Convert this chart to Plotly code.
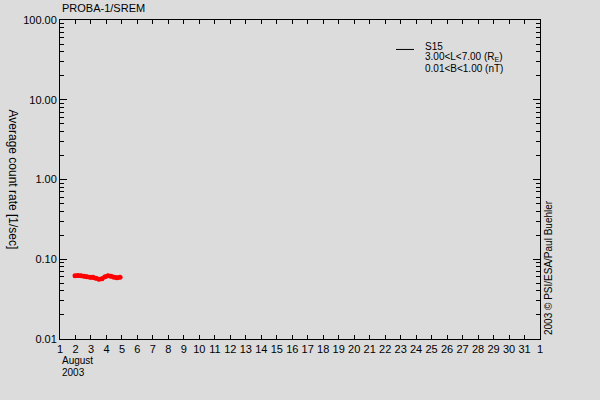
import plotly.graph_objects as go

# Data (day of August 2003, average count rate [1/sec])
days = [1.97, 2.16, 2.36, 2.55, 2.74, 2.94, 3.13, 3.32, 3.52, 3.71, 3.91, 4.10, 4.29, 4.49, 4.68, 4.88]
rates = [0.0620, 0.0625, 0.0620, 0.0612, 0.0604, 0.0596, 0.0596, 0.0579, 0.0562, 0.0570,
         0.0604, 0.0620, 0.0612, 0.0596, 0.0587, 0.0596]

x_tickvals = list(range(1, 33))
x_ticktext = [str(d) for d in range(1, 32)] + ["1"]
y_tickvals = [0.01, 0.1, 1, 10, 100]
y_ticktext = ["0.01", "0.10", "1.00", "10.00", "100.00"]
y_minor = [m * 10 ** e for e in range(-2, 2) for m in range(2, 10)]
legend_lines = ["S15", "3.00<L<7.00 (R<sub>E</sub>)", "0.01<B<1.00 (nT)"]

BG = "#dcdcdc"
FONT = dict(family="Liberation Sans", size=11, color="black")
SMALL = dict(family="Liberation Sans", size=10, color="black")
PH = 319.5  # plot height in px
PW = 480

fig = go.Figure()
fig.add_trace(go.Scatter(
    x=days, y=rates, mode="lines+markers",
    line=dict(color="red", width=4),
    marker=dict(color="red", size=5),
    showlegend=False, hoverinfo="skip",
))

fig.update_layout(
    width=600, height=400,
    margin=dict(l=60, r=60, t=20, b=61, autoexpand=False),
    paper_bgcolor=BG, plot_bgcolor=BG,
    font=FONT,
    showlegend=False,
)
fig.update_xaxes(
    range=[1, 32], tickmode="array", tickvals=x_tickvals, ticktext=x_ticktext,
    ticks="inside", ticklen=4, tickwidth=1, tickcolor="black",
    showline=True, linecolor="black", linewidth=1, mirror="ticks",
    showgrid=False, zeroline=False, tickfont=FONT,
)
fig.update_yaxes(
    type="log", range=[-2, 2], tickmode="array", tickvals=y_tickvals, ticktext=y_ticktext,
    ticks="inside", ticklen=7, tickwidth=1, tickcolor="black",
    minor=dict(tickmode="array", tickvals=y_minor, ticks="inside", ticklen=4, tickcolor="black", showgrid=False),
    showline=True, linecolor="black", linewidth=1, mirror="ticks",
    showgrid=False, zeroline=False, tickfont=FONT,
)

# Title
fig.add_annotation(text="PROBA-1/SREM", xref="paper", yref="paper", x=0, y=1,
                   xanchor="left", yanchor="bottom", yshift=4, showarrow=False, font=FONT)
# Y axis title (reads top to bottom)
fig.add_annotation(text="Average count rate [1/sec]", xref="paper", yref="paper",
                   x=0, y=0.5, xanchor="center", yanchor="middle", xshift=-47, textangle=90,
                   showarrow=False, font=dict(family="Liberation Sans", size=12, color="black"))
# Copyright on right
fig.add_annotation(text="2003 © PSI/ESA/Paul Buehler", xref="paper", yref="paper",
                   x=1, y=0, xanchor="left", yanchor="bottom", xshift=1, yshift=2,
                   textangle=-90, showarrow=False, font=SMALL)
# Month / year under axis
fig.add_annotation(text="August", xref="paper", yref="paper", x=0, y=0,
                   xanchor="left", yanchor="middle", yshift=-21, showarrow=False, font=SMALL)
fig.add_annotation(text="2003", xref="paper", yref="paper", x=0, y=0,
                   xanchor="left", yanchor="middle", yshift=-33, showarrow=False, font=SMALL)
# Legend
fig.add_shape(type="line", xref="paper", yref="paper",
              x0=(396 - 60) / PW, x1=(414 - 60) / PW,
              y0=(339 - 49) / PH, y1=(339 - 49) / PH,
              line=dict(color="black", width=1))
for i, txt in enumerate(legend_lines):
    fig.add_annotation(text=txt, xref="paper", yref="paper",
                       x=(423 - 60) / PW, y=(339 - (46 + 11 * i)) / PH,
                       xanchor="left", yanchor="middle", align="left", showarrow=False,
                       font=SMALL)

fig.write_html("out.html", config={"displayModeBar": False},
               post_script="document.body.style.margin='0';")
